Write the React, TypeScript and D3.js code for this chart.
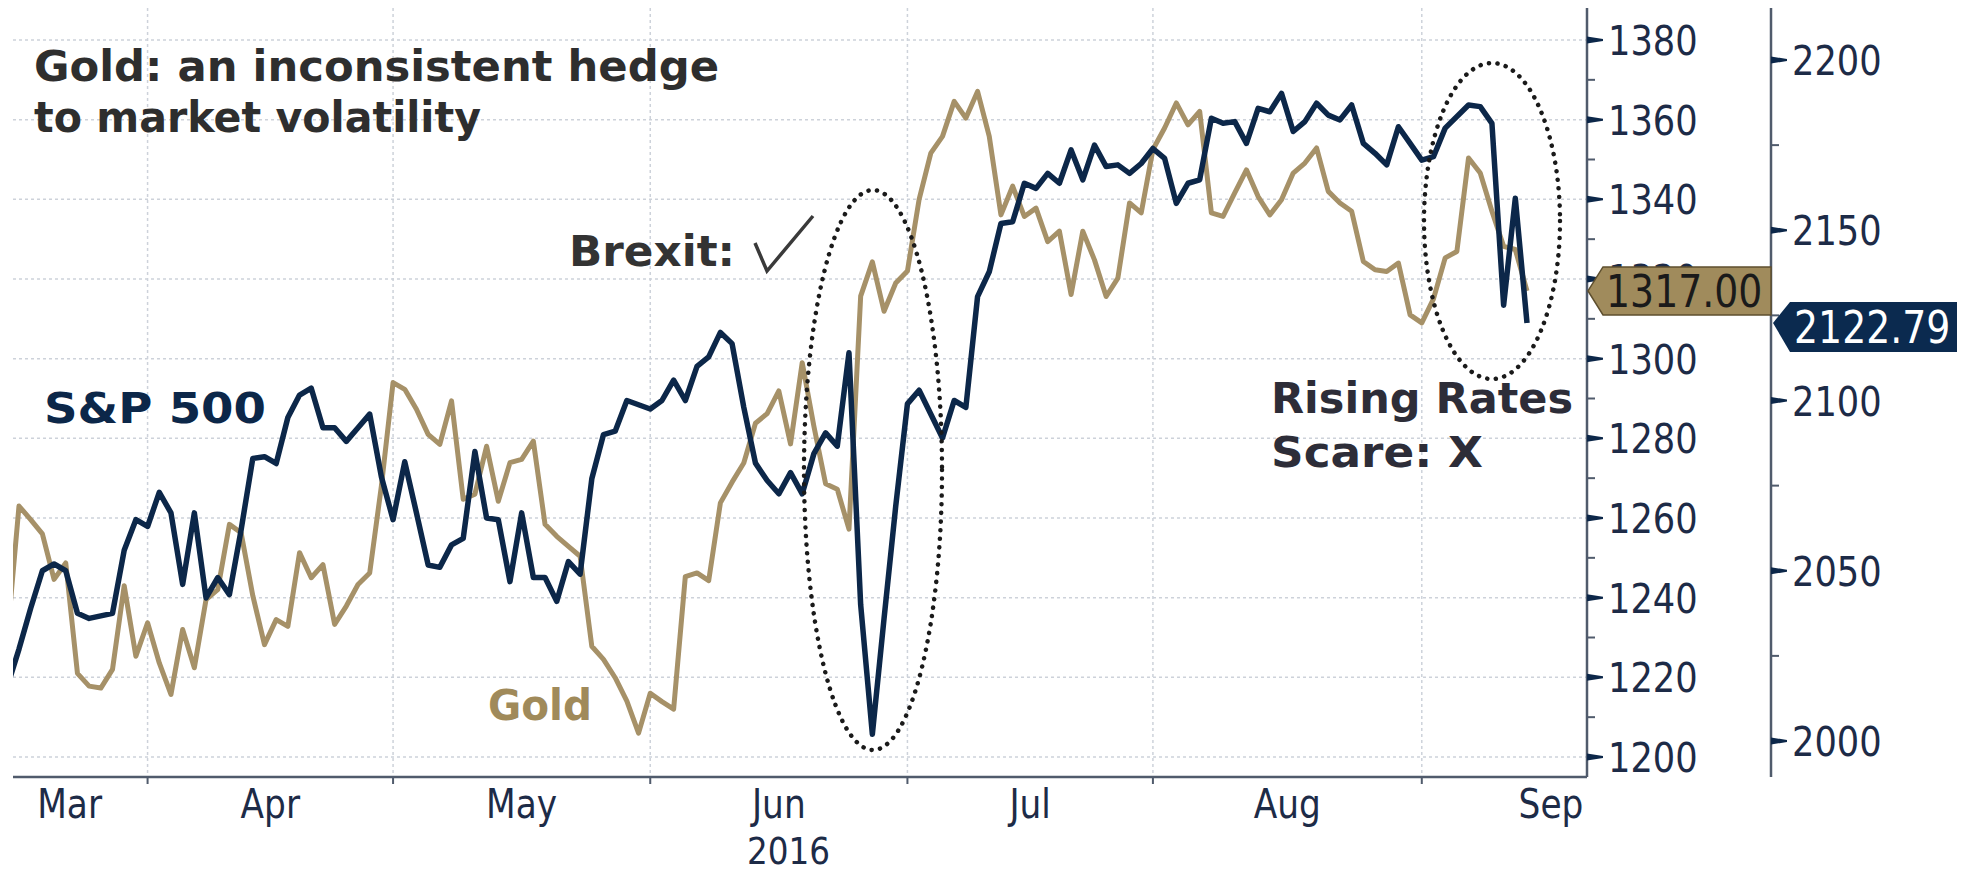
import React from "react";
import * as d3 from "d3";

// One value per weekday, 15 Mar 2016 (index 0) to 13 Sep 2016 (index 130)
const goldValues: number[] = [
  1230, 1263, 1259.6, 1256, 1244.6, 1248.7, 1221, 1217.8, 1217.3, 1222,
  1243, 1225.3, 1233.7, 1223.6, 1215.7, 1232, 1222.4, 1239.5, 1242, 1258.4,
  1256.3, 1240.5, 1228.2, 1234.5, 1232.8, 1251.3, 1245, 1248.3, 1233.3, 1237.9,
  1243.3, 1246.2, 1268, 1294, 1292.3, 1287.3, 1281, 1278.5, 1289.4, 1264.7,
  1266, 1278, 1264.2, 1273.9, 1274.7, 1279.3, 1258.4, 1255.4, 1252.9, 1250.4,
  1227.8, 1224.5, 1219.9, 1214, 1206, 1216, 1213.9, 1212, 1245.3, 1246.2,
  1244.3, 1263.8, 1269, 1273.8, 1283.8, 1286.2, 1291.9, 1278.6, 1299, 1283,
  1268.6, 1267.2, 1257.2, 1315.7, 1324.3, 1311.9, 1319, 1322, 1340, 1351.6,
  1355.8, 1364.6, 1360.4, 1367.1, 1355.8, 1336.1, 1343.3, 1335.7, 1337.8, 1329.4,
  1332, 1316.1, 1332, 1324.8, 1315.6, 1320.2, 1339.1, 1336.6, 1352.5, 1357.9,
  1364.2, 1358.7, 1362.1, 1336.6, 1335.7, 1341.6, 1347.4, 1340.7, 1336.1, 1339.9,
  1346.6, 1349.1, 1352.9, 1342, 1339.1, 1337, 1324.4, 1322.3, 1321.9, 1324,
  1311, 1309, 1315, 1325.3, 1326.9, 1350.4, 1346.6, 1337, 1328.2, 1327.4,
  1317,
];

// S&P 500 (null = US market holiday)
const spxValues: (number | null)[] = [
  2016, 2027, 2039, 2050, 2052, 2050, 2037.5, 2036, null, 2037.5,
  2056, 2065, 2063, 2073, 2067, 2046, 2067, 2042, 2048, 2043,
  2062, 2083, 2083.5, 2081.5, 2095, 2101.6, 2103.6, 2092, 2092, 2088,
  2092, 2096, 2077.6, 2065, 2082, 2067, 2051.7, 2051, 2057.6, 2059.5,
  2085, 2065.5, 2065, 2046.8, 2067, 2048, 2048, 2041, 2052.7, 2049,
  2077, 2090, 2091, 2100, null, 2097.5, 2100, 2106, 2100, 2110,
  2112.8, 2120, 2116.7, 2098, 2081.6, 2076.5, 2072.6, 2078.8, 2072.6, 2084.4,
  2090.5, 2086.6, 2114, 2040, 2002, 2036, 2069, 2099, 2103, null,
  2089, 2100, 2098, 2130.5, 2137.8, 2152, 2152.5, 2163.8, 2162.3, 2166.7,
  2163.8, 2173.6, 2164.8, 2175, 2168.7, 2169.2, 2166.7, 2169.6, 2174, 2171.1,
  2157.9, 2163.8, 2164.8, 2182.9, 2181.4, 2181.9, 2175.5, 2185.8, 2184.8, 2190.2,
  2179, 2181.9, 2187.3, 2183.8, 2182.4, 2186.8, 2175.5, 2172.6, 2169.2, 2180.4,
  2175.5, 2170.6, 2171.6, 2180, null, 2186.8, 2186.3, 2181.4, 2128, 2159.4,
  2122.79,
];

const monthLabels = ["Mar", "Apr", "May", "Jun", "Jul", "Aug", "Sep"];
const monthEndIdx = [12, 33, 55, 77, 98, 121]; // last weekday of Mar..Aug
const yearLabel = "2016";
const goldTicks = [1200, 1220, 1240, 1260, 1280, 1300, 1320, 1340, 1360, 1380];
const goldMinorTicks = [1210, 1230, 1250, 1270, 1290, 1310, 1330, 1350, 1370];
const spxTicks = [2000, 2050, 2100, 2150, 2200];
const spxMinorTicks = [2025, 2075, 2125, 2175];
const titleLines = ["Gold: an inconsistent hedge", "to market volatility"];
const goldLastLabel = "1317.00";
const spxLastLabel = "2122.79";

const W = 1970;
const H = 874;
const FONT = "'DejaVu Sans', Verdana, sans-serif";
const NAVY = "#0c2749";
const GOLD = "#a69168";
const AXIS = "#505b6c";
const LABEL = "#1d2b47";
const GRID = "#cdd2da";
const SX = 0.86;

function RegText(props: { x: number; y: number; size: number; fill: string; anchor?: string; children: string }) {
  const { x, y, size, fill, anchor = "start", children } = props;
  return (
    <text
      transform={`translate(${x},${y}) scale(${SX},1)`}
      fontSize={size}
      fill={fill}
      textAnchor={anchor}
      fontFamily={FONT}
    >
      {children}
    </text>
  );
}

function BoldText(props: { x: number; y: number; size: number; fill: string; w: number; children: string }) {
  const { x, y, size, fill, w, children } = props;
  return (
    <text
      x={x}
      y={y}
      fontSize={size}
      fontWeight="bold"
      fill={fill}
      fontFamily={FONT}
      textLength={w}
      lengthAdjust="spacingAndGlyphs"
    >
      {children}
    </text>
  );
}

export default function App() {
  const x = d3.scaleLinear().domain([0, 130]).range([7.3, 1527]);
  const yG = d3.scaleLinear().domain([1200, 1380]).range([757, 40]);
  const yS = d3.scaleLinear().domain([2000, 2200]).range([741, 60]);

  const plotL = 13;
  const plotR = 1587;
  const plotT = 8;
  const plotB = 777;
  const axR = 1771;

  const goldLine = d3
    .line<number>()
    .x((_, i) => x(i))
    .y((d) => yG(d))(goldValues) as string;

  const spxPts = spxValues
    .map((v, i) => [i, v] as [number, number | null])
    .filter((p) => p[1] !== null) as [number, number][];
  const spxLine = d3
    .line<[number, number]>()
    .x((p) => x(p[0]))
    .y((p) => yS(p[1]))(spxPts) as string;

  const tickXs = monthEndIdx.map((i) => x(i));
  const labelXs: number[] = [];
  labelXs.push(tickXs[0] - 78);
  for (let k = 1; k < tickXs.length; k++) labelXs.push((tickXs[k - 1] + tickXs[k]) / 2);
  labelXs.push(plotR - 36);

  const gTagY = yG(goldValues[goldValues.length - 1]);
  const sTagY = yS(spxValues[spxValues.length - 1] as number);

  return (
    <svg
      width={W}
      height={H}
      viewBox={`0 0 ${W} ${H}`}
      style={{ position: "absolute", left: 0, top: 0, background: "#fff" }}
    >
      <defs>
        <clipPath id="plotClip">
          <rect x={plotL} y={0} width={plotR - plotL} height={plotB} />
        </clipPath>
      </defs>
      <rect x={0} y={0} width={W} height={H} fill="#fff" />

      {/* grid */}
      {goldTicks.map((t) => (
        <line
          key={"hg" + t}
          x1={plotL}
          x2={plotR}
          y1={yG(t)}
          y2={yG(t)}
          stroke={GRID}
          strokeWidth={1.5}
          strokeDasharray="3,3"
        />
      ))}
      {tickXs.map((tx, k) => (
        <line
          key={"vg" + k}
          x1={tx}
          x2={tx}
          y1={plotT}
          y2={plotB}
          stroke={GRID}
          strokeWidth={1.5}
          strokeDasharray="3,3"
        />
      ))}

      {/* series */}
      <g clipPath="url(#plotClip)">
        <path d={goldLine} fill="none" stroke={GOLD} strokeWidth={5} strokeLinejoin="round" />
        <path d={spxLine} fill="none" stroke={NAVY} strokeWidth={5.5} strokeLinejoin="round" />
      </g>

      {/* x axis */}
      <line x1={plotL} x2={plotR} y1={plotB} y2={plotB} stroke={AXIS} strokeWidth={2.5} />
      {tickXs.map((tx, k) => (
        <line key={"xt" + k} x1={tx} x2={tx} y1={plotB} y2={plotB + 7} stroke={AXIS} strokeWidth={2} />
      ))}
      {monthLabels.map((m, k) => (
        <RegText key={m} x={labelXs[k]} y={818} size={40} fill={LABEL} anchor="middle">
          {m}
        </RegText>
      ))}
      <RegText x={747} y={864} size={38} fill={LABEL}>
        {yearLabel}
      </RegText>

      {/* left (gold) axis */}
      <line x1={plotR} x2={plotR} y1={plotT} y2={plotB} stroke={AXIS} strokeWidth={2.5} />
      {goldMinorTicks.map((t) => (
        <line key={"gm" + t} x1={plotR} x2={plotR + 8} y1={yG(t)} y2={yG(t)} stroke={AXIS} strokeWidth={2} />
      ))}
      {goldTicks.map((t) => (
        <g key={"gt" + t}>
          <path
            d={`M${plotR},${yG(t) - 3.5}L${plotR + 16},${yG(t) - 1}L${plotR + 16},${yG(t) + 1}L${plotR},${yG(t) + 3.5}Z`}
            fill={NAVY}
          />
          <RegText x={plotR + 21} y={yG(t) + 15} size={41} fill={LABEL}>
            {String(t)}
          </RegText>
        </g>
      ))}

      {/* right (S&P) axis */}
      <line x1={axR} x2={axR} y1={plotT} y2={plotB} stroke={AXIS} strokeWidth={2.5} />
      {spxMinorTicks.map((t) => (
        <line key={"sm" + t} x1={axR} x2={axR + 8} y1={yS(t)} y2={yS(t)} stroke={AXIS} strokeWidth={2} />
      ))}
      {spxTicks.map((t) => (
        <g key={"st" + t}>
          <path
            d={`M${axR},${yS(t) - 3.5}L${axR + 16},${yS(t) - 1}L${axR + 16},${yS(t) + 1}L${axR},${yS(t) + 3.5}Z`}
            fill={NAVY}
          />
          <RegText x={axR + 21} y={yS(t) + 15} size={41} fill={LABEL}>
            {String(t)}
          </RegText>
        </g>
      ))}

      {/* last value tags */}
      <path
        d={`M${plotR + 1},${gTagY}L${plotR + 16},${gTagY - 24}L${axR},${gTagY - 24}L${axR},${gTagY + 24}L${plotR + 16},${gTagY + 24}Z`}
        fill="#a08b5c"
        stroke="#5e4f2e"
        strokeWidth={1.5}
      />
      <RegText x={plotR + 19} y={gTagY + 16} size={44} fill="#1a1a1a">
        {goldLastLabel}
      </RegText>
      <path
        d={`M${axR + 2},${sTagY}L${axR + 19},${sTagY - 21}L1957,${sTagY - 21}L1957,${sTagY + 29}L${axR + 19},${sTagY + 29}Z`}
        fill="#0b2a4f"
      />
      <RegText x={axR + 23} y={sTagY + 20} size={44} fill="#ffffff">
        {spxLastLabel}
      </RegText>

      {/* annotations */}
      <BoldText x={34} y={81} size={43} fill="#2e2e2e" w={685}>
        {titleLines[0]}
      </BoldText>
      <BoldText x={34} y={132} size={43} fill="#2e2e2e" w={447}>
        {titleLines[1]}
      </BoldText>
      <BoldText x={569} y={266} size={43} fill="#333333" w={166}>
        Brexit:
      </BoldText>
      <path d="M755,243L767,271L813,216" fill="none" stroke="#3a3a3a" strokeWidth={3.5} strokeLinejoin="miter" />
      <BoldText x={44} y={423} size={43} fill={NAVY} w={222}>
        S&amp;P 500
      </BoldText>
      <BoldText x={488} y={720} size={43} fill="#a08a5a" w={104}>
        Gold
      </BoldText>
      <BoldText x={1271} y={413} size={43} fill="#2d2d38" w={302}>
        Rising Rates
      </BoldText>
      <BoldText x={1271} y={467} size={43} fill="#2d2d38" w={212}>
        Scare: X
      </BoldText>

      {/* dotted ellipses */}
      <ellipse
        cx={873}
        cy={470}
        rx={69}
        ry={280}
        fill="none"
        stroke="#1a1a1a"
        strokeWidth={4.5}
        strokeDasharray="0.1,8.5"
        strokeLinecap="round"
      />
      <ellipse
        cx={1492}
        cy={221}
        rx={68}
        ry={158}
        fill="none"
        stroke="#1a1a1a"
        strokeWidth={4.5}
        strokeDasharray="0.1,8.5"
        strokeLinecap="round"
      />
    </svg>
  );
}
